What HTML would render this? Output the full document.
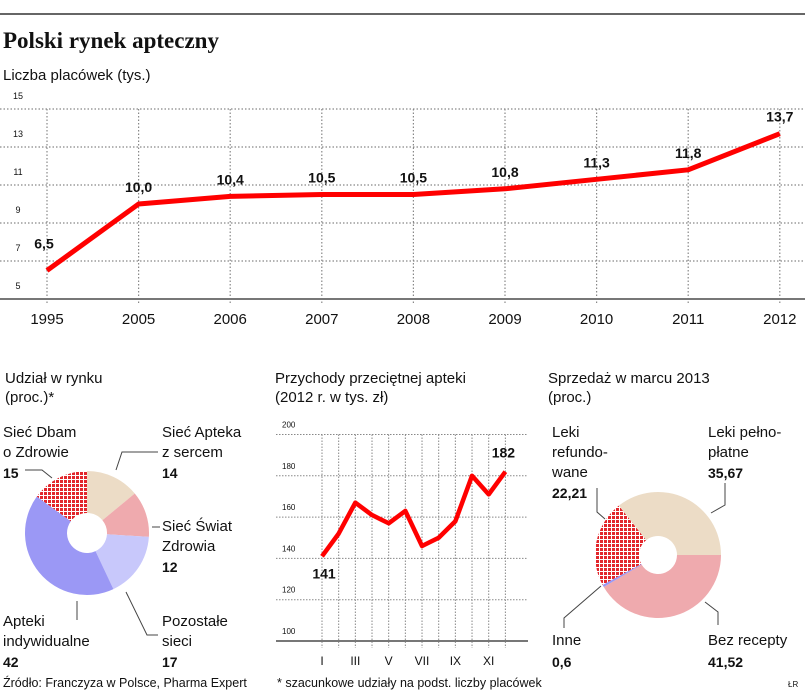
<!DOCTYPE html>
<html><head><meta charset="utf-8">
<style>
html,body{margin:0;padding:0;background:#fff;}
body{width:805px;height:691px;overflow:hidden;font-family:"Liberation Sans",sans-serif;}
svg text{font-family:"Liberation Sans",sans-serif;fill:#111;}
</style></head>
<body>
<svg id="chart" width="805" height="691" viewBox="0 0 805 691" xmlns="http://www.w3.org/2000/svg">
<defs>
<pattern id="hatch" width="4" height="4" patternUnits="userSpaceOnUse">
<rect width="4" height="4" fill="#fff"/>
<rect width="3" height="3" fill="#e2262b"/>
</pattern>
</defs>
<line x1="0" y1="14" x2="805" y2="14" stroke="#666" stroke-width="2"/>
<text x="3" y="48" style="font-family:'Liberation Serif',serif" font-size="23" font-weight="bold">Polski rynek apteczny</text>
<text x="3" y="80" font-size="15">Liczba placówek (tys.)</text>
<g id="top"></g>

<text x="5" y="383" font-size="15">Udział w rynku</text>
<text x="5" y="402" font-size="15">(proc.)*</text>
<g id="pie1"></g>

<text x="275" y="383" font-size="15">Przychody przeciętnej apteki</text>
<text x="275" y="402" font-size="15">(2012 r. w tys. zł)</text>
<g id="mid"></g>

<text x="548" y="383" font-size="15">Sprzedaż w marcu 2013</text>
<text x="548" y="402" font-size="15">(proc.)</text>
<g id="pie2"></g>

<text x="3" y="687" font-size="12.5">Źródło: Franczyza w Polsce, Pharma Expert</text>
<text x="277" y="687" font-size="12.5">* szacunkowe udziały na podst. liczby placówek</text>
<text x="788" y="687" font-size="8">ŁR</text>
</svg>
<script>
const NS="http://www.w3.org/2000/svg";
// ---- Top chart data
const topYears=["1995","2005","2006","2007","2008","2009","2010","2011","2012"];
const topValues=[6.5,10.0,10.4,10.5,10.5,10.8,11.3,11.8,13.7];
const topLabels=["6,5","10,0","10,4","10,5","10,5","10,8","11,3","11,8","13,7"];
const topTicks=[5,7,9,11,13,15];
// ---- Revenue chart data
const months=["I","II","III","IV","V","VI","VII","VIII","IX","X","XI","XII"];
const monthLabels=["I","","III","","V","","VII","","IX","","XI",""];
const revenue=[141,152,167,161,157,163,146,150,158,180,171,182];
const revTicks=[100,120,140,160,180,200];
// ---- Donut 1 data
const shareNames=["Sieć Apteka z sercem","Sieć Świat Zdrowia","Pozostałe sieci","Apteki indywidualne","Sieć Dbam o Zdrowie"];
const shareValues=[14,12,17,42,15];
const shareColors=["#ecdcc6","#efaaae","#c8c8fb","#9b98f5","url(#hatch)"];
// ---- Donut 2 data
const salesNames=["Bez recepty","Inne","Leki refundowane","Leki pełnopłatne"];
const salesValues=[41.52,0.6,22.21,35.67];
const salesColors=["#efaaae","#9b98f5","url(#hatch)","#ecdcc6"];

function mk(parent,tag,attrs){const e=document.createElementNS(NS,tag);for(const k in attrs)e.setAttribute(k,attrs[k]);parent.appendChild(e);return e;}

// Top chart
(function(){
const g=document.getElementById('top');
const x0=47,dx=91.6;
const X=i=>x0+i*dx;
const Y=v=>299-(v-5)*19;
topTicks.forEach(t=>{
  if(t>5){const l=mk(g,'line',{x1:0,x2:805,y1:Y(t),y2:Y(t),stroke:'#888','stroke-width':1.2,'stroke-dasharray':'1.5,2'});
  
  }
  const tx=mk(g,'text',{x:18,y:Y(t)-10,'font-size':9,'text-anchor':'middle'});tx.textContent=t;
  
  
});
topYears.forEach((yr,i)=>{
  const l=mk(g,'line',{x1:X(i),x2:X(i),y1:Y(15),y2:305,stroke:'#888','stroke-width':1.2,'stroke-dasharray':'1.5,2'});
  
  
  const t=mk(g,'text',{x:X(i),y:324,'font-size':15,'text-anchor':'middle'});t.textContent=yr;
  
  
});
const b=mk(g,'line',{x1:0,x2:805,y1:299,y2:299,stroke:'#777','stroke-width':2});


const p=mk(g,'polyline',{points:topValues.map((v,i)=>X(i)+','+Y(v)).join(' '),fill:'none',stroke:'#f00','stroke-width':5,'stroke-linejoin':'round'});


topValues.forEach((v,i)=>{
  const t=mk(g,'text',{x:X(i)+(i==0?-3:0),y:Y(v)-(i==0?22:12),'font-size':14,'font-weight':'bold','text-anchor':'middle'});
  t.textContent=topLabels[i];
  
  
});
})();

// Revenue chart
(function(){
const g=document.getElementById('mid');
const X=i=>322+i*16.67;
const Y=v=>641-(v-100)*2.065;
revTicks.forEach(t=>{
  if(t>100){const l=mk(g,'line',{x1:276,x2:528,y1:Y(t),y2:Y(t),stroke:'#888','stroke-width':1,'stroke-dasharray':'1.5,1.5'});
  
  }
  const tx=mk(g,'text',{x:282,y:Y(t)-7,'font-size':8});tx.textContent=t;
  
  
});
months.forEach((m,i)=>{
  const l=mk(g,'line',{x1:X(i),x2:X(i),y1:Y(200),y2:648,stroke:'#888','stroke-width':1,'stroke-dasharray':'1.5,1.5'});
  
  
  if(monthLabels[i]){const t=mk(g,'text',{x:X(i),y:665,'font-size':12,'text-anchor':'middle'});t.textContent=monthLabels[i];
  
  }
});
const b=mk(g,'line',{x1:276,x2:528,y1:641,y2:641,stroke:'#777','stroke-width':2});


const p=mk(g,'polyline',{points:revenue.map((v,i)=>X(i)+','+Y(v)).join(' '),fill:'none',stroke:'#f00','stroke-width':4.5,'stroke-linejoin':'round'});


const a=mk(g,'text',{x:X(0)+2,y:Y(revenue[0])+22,'font-size':14,'font-weight':'bold','text-anchor':'middle'});a.textContent=revenue[0];


const z=mk(g,'text',{x:X(11)-2,y:Y(revenue[11])-14,'font-size':14,'font-weight':'bold','text-anchor':'middle'});z.textContent=revenue[11];


})();

function donut(g,cx,cy,R,r,values,colors,startDeg,nameBase){
  const tot=values.reduce((a,b)=>a+b,0);let a=startDeg;
  values.forEach((v,i)=>{
    const a2=a+v/tot*360;
    const pt=(ang,rad)=>[cx+rad*Math.sin(ang*Math.PI/180),cy-rad*Math.cos(ang*Math.PI/180)];
    const [x1,y1]=pt(a,R),[x2,y2]=pt(a2,R),[x3,y3]=pt(a2,r),[x4,y4]=pt(a,r);
    const lg=(a2-a)>180?1:0;
    const p=mk(g,'path',{d:`M${x1},${y1}A${R},${R} 0 ${lg} 1 ${x2},${y2}L${x3},${y3}A${r},${r} 0 ${lg} 0 ${x4},${y4}Z`,fill:colors[i]});
    
    
    a=a2;
  });
}
function txt(g,x,y,s,bold,name){const t=mk(g,'text',{x:x,y:y,'font-size':bold?14:15,'font-weight':bold?'bold':'normal'});t.textContent=s;
  
  }
function lead(g,pts,name){const p=mk(g,'polyline',{points:pts,fill:'none',stroke:'#444','stroke-width':1});
  
  }

// Donut 1
(function(){
const g=document.getElementById('pie1');
donut(g,87,533,62,20,shareValues,shareColors,0,'share');
txt(g,3,437,'Sieć Dbam',false,'label-dbam');txt(g,3,457,'o Zdrowie',false,'label-dbam');txt(g,3,478,'15',true,'value-dbam');
txt(g,162,437,'Sieć Apteka',false,'label-apteka');txt(g,162,457,'z sercem',false,'label-apteka');txt(g,162,478,'14',true,'value-apteka');
txt(g,162,531,'Sieć Świat',false,'label-swiat');txt(g,162,551,'Zdrowia',false,'label-swiat');txt(g,162,572,'12',true,'value-swiat');
txt(g,3,626,'Apteki',false,'label-indywidualne');txt(g,3,646,'indywidualne',false,'label-indywidualne');txt(g,3,667,'42',true,'value-indywidualne');
txt(g,162,626,'Pozostałe',false,'label-pozostale');txt(g,162,646,'sieci',false,'label-pozostale');txt(g,162,667,'17',true,'value-pozostale');
lead(g,'25,470 42,470 52,478','leader-dbam');
lead(g,'158,452 122,452 116,470','leader-apteka');
lead(g,'152,527 160,527','leader-swiat');
lead(g,'77,601 77,620','leader-indywidualne');
lead(g,'126,592 147,635 158,635','leader-pozostale');
})();

// Donut 2
(function(){
const g=document.getElementById('pie2');
donut(g,658,555,63,19,salesValues,salesColors,90,'sales');
txt(g,552,437,'Leki',false,'label-refundowane');txt(g,552,457,'refundo-',false,'label-refundowane');txt(g,552,477,'wane',false,'label-refundowane');txt(g,552,498,'22,21',true,'value-refundowane');
txt(g,708,437,'Leki pełno-',false,'label-pelnoplatne');txt(g,708,457,'płatne',false,'label-pelnoplatne');txt(g,708,478,'35,67',true,'value-pelnoplatne');
txt(g,552,645,'Inne',false,'label-inne');txt(g,552,667,'0,6',true,'value-inne');
txt(g,708,645,'Bez recepty',false,'label-bez-recepty');txt(g,708,667,'41,52',true,'value-bez-recepty');
lead(g,'597,488 597,512 605,519','leader-refundowane');
lead(g,'725,483 725,505 711,513','leader-pelnoplatne');
lead(g,'601,586 564,618 564,628','leader-inne');
lead(g,'705,602 718,612 718,625','leader-bez-recepty');
})();
</script>
</body></html>
